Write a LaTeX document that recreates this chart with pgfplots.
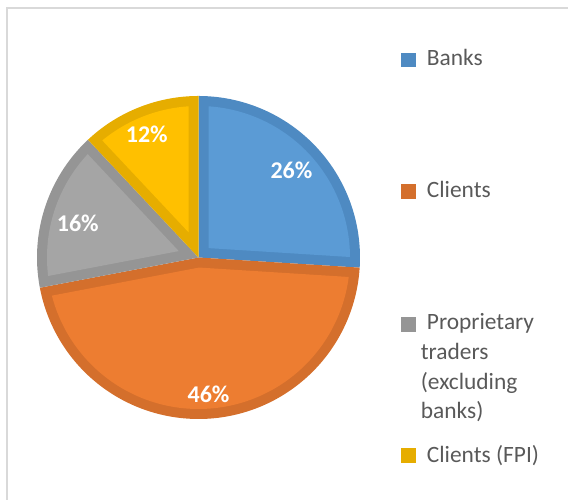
\documentclass[border=0pt]{standalone}
\usepackage{pgfplots}
\pgfplotsset{compat=1.18}
\usepackage{pgfplotstable}
\usepackage{fontspec}
\setmainfont{Carlito}

\definecolor{bankL}{HTML}{5B9BD5}
\definecolor{bankD}{HTML}{4E8AC2}
\definecolor{cliL}{HTML}{ED7D31}
\definecolor{cliD}{HTML}{D46F2C}
\definecolor{propL}{HTML}{A5A5A5}
\definecolor{propD}{HTML}{959595}
\definecolor{fpiL}{HTML}{FFC000}
\definecolor{fpiD}{HTML}{E6AD00}
\definecolor{legtext}{HTML}{595959}
\definecolor{frame}{HTML}{D9D9D9}

\pgfplotstableread{
key value
Banks 26
Clients 46
Proprietary 16
FPI 12
}\piedata

\newcommand\labelfont{\bfseries\fontsize{12}{14}\selectfont}
\newcommand\legfont{\fontsize{11.7}{14}\selectfont}

\def\cx{198.5}
\def\cy{241.5}
\def\R{161.5}
\def\d{10}

% #1 start, #2 end, #3 dark, #4 light, #5 label, #6 label radius, #7 label angle shift
\newcommand\pieslice[7]{%
  \pgfmathsetmacro\lo{min(#1,#2)}%
  \pgfmathsetmacro\hi{max(#1,#2)}%
  \pgfmathsetmacro\half{(\hi-\lo)/2}%
  \pgfmathsetmacro\mid{(\hi+\lo)/2}%
  \pgfmathsetmacro\pd{\d/sin(\half)}%
  \pgfmathsetmacro\px{\cx+\pd*cos(\mid)}%
  \pgfmathsetmacro\py{\cy+\pd*sin(\mid)}%
  \pgfmathsetmacro\dl{asin(\d/(\R-\d))}%
  \pgfmathsetmacro\sa{\lo+\dl}%
  \pgfmathsetmacro\sb{\hi-\dl}%
  \pgfmathsetmacro\lx{\cx+#6*cos(\mid+#7)}%
  \pgfmathsetmacro\ly{\cy+#6*sin(\mid+#7)}%
  \edef\doslice{%
    \noexpand\addplot[fill=#3, draw=none, domain=\lo:\hi, samples=120]
      ({\cx+\R*cos(x)},{\cy+\R*sin(x)}) -- (axis cs:\cx,\cy) -- cycle;
    \noexpand\addplot[fill=#4, draw=none, domain=\sa:\sb, samples=120]
      ({\cx+(\R-\d)*cos(x)},{\cy+(\R-\d)*sin(x)}) -- (axis cs:\px,\py) -- cycle;
    \noexpand\node[text=white, inner sep=0pt, font=\noexpand\labelfont] at (axis cs:\lx,\ly) {#5};
  }\doslice
}

\begin{document}
\begin{tikzpicture}
\pgfplotstablegetelem{0}{value}\of\piedata \let\vA\pgfplotsretval
\pgfplotstablegetelem{1}{value}\of\piedata \let\vB\pgfplotsretval
\pgfplotstablegetelem{2}{value}\of\piedata \let\vC\pgfplotsretval
\pgfplotstablegetelem{3}{value}\of\piedata \let\vD\pgfplotsretval
\pgfmathsetmacro\aA{90}
\pgfmathsetmacro\aB{\aA-3.6*\vA}
\pgfmathsetmacro\aC{\aB-3.6*\vB}
\pgfmathsetmacro\aD{\aC-3.6*\vC}
\pgfmathsetmacro\aE{\aD-3.6*\vD}
\begin{axis}[at={(0,0)}, anchor=south west, scale only axis,
  width=284pt, height=249.5pt,
  xmin=0, xmax=568, ymin=0, ymax=499,
  hide axis, clip=false]
\draw[color=frame, line width=0.8pt] (axis cs:7,-5) -- (axis cs:7,491) -- (axis cs:575,491);
\pieslice{\aA}{\aB}{bankD}{bankL}{\vA\%}{127.5}{0}
\pieslice{\aB}{\aC}{cliD}{cliL}{\vB\%}{137}{0.6}
\pieslice{\aC}{\aD}{propD}{propL}{\vC\%}{125.5}{2.2}
\pieslice{\aD}{\aE}{fpiD}{fpiL}{\vD\%}{133.5}{1.2}
% legend
\fill[bankD] (axis cs:401,432) rectangle (axis cs:416,446);
\fill[cliD] (axis cs:401,300) rectangle (axis cs:416,315);
\fill[propD] (axis cs:401,167) rectangle (axis cs:416,182);
\fill[fpiD] (axis cs:401,36) rectangle (axis cs:416,51);
\node[anchor=base west, inner sep=0pt, text=legtext, font=\legfont] at (axis cs:426.5,433) {Banks};
\node[anchor=base west, inner sep=0pt, text=legtext, font=\legfont] at (axis cs:426.5,301) {Clients};
\node[anchor=base west, inner sep=0pt, text=legtext, font=\legfont] at (axis cs:426.5,169) {Proprietary};
\node[anchor=base west, inner sep=0pt, text=legtext, font=\legfont] at (axis cs:420.5,139) {traders};
\node[anchor=base west, inner sep=0pt, text=legtext, font=\legfont] at (axis cs:420.5,109.5) {(excluding};
\node[anchor=base west, inner sep=0pt, text=legtext, font=\legfont] at (axis cs:420.5,80) {banks)};
\node[anchor=base west, inner sep=0pt, text=legtext, font=\legfont] at (axis cs:426.5,37) {Clients (FPI)};
\end{axis}
\pgfresetboundingbox
\path[use as bounding box] (0,0) rectangle (284pt,249.5pt);
\end{tikzpicture}
\end{document}
